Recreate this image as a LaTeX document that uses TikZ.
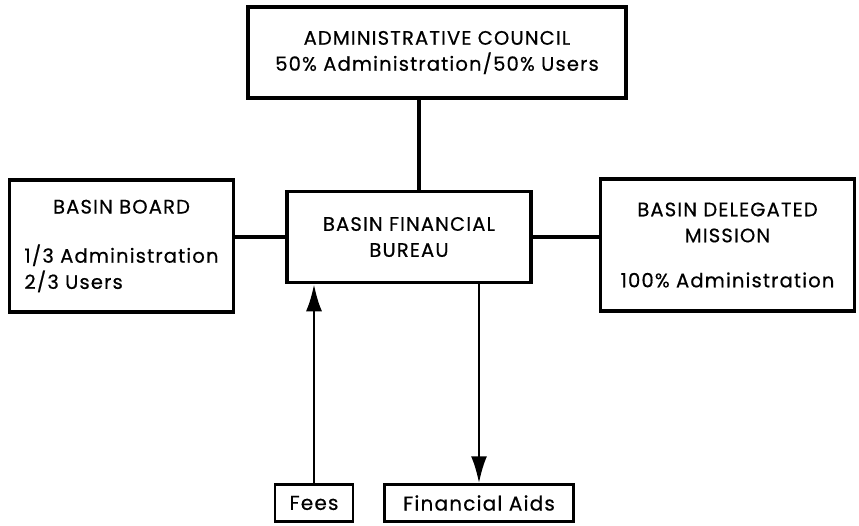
\documentclass[tikz,border=0pt]{standalone}
\usepackage{fontspec}
\setmainfont{Poppins}[LetterSpace=6, FakeBold=0.6]
\usetikzlibrary{arrows.meta, positioning}
\tikzset{
    unit/.style={
        rectangle, draw=black, line width=3.5pt,
        font=\fontsize{19.5}{26}\selectfont, align=center, inner sep=0pt
    },
    smallbox/.style={
        rectangle, draw=black, line width=2.5pt,
        minimum height=37pt, font=\fontsize{20}{22}\selectfont, inner sep=0pt
    },
    link/.style={line width=3.5pt, draw=black},
    arrow/.style={-{Latex[length=27pt,width=16pt]}, line width=2.5pt, draw=black}
}

\begin{document}
\begin{tikzpicture}[x=1pt, y=-1pt]
    \useasboundingbox (0,0) rectangle (859,525);

    \node[unit, minimum width=244pt, minimum height=91pt] (bureau) at (409,237) {BASIN FINANCIAL\\BUREAU};
    \node[unit, minimum width=224pt, minimum height=132pt, left=50pt of bureau, yshift=-9pt] (board)
        {\begin{tabular}{@{}l@{}}\multicolumn{1}{@{}c@{}}{BASIN BOARD}\\[23pt]1/3 Administration\\2/3 Users\end{tabular}};
    \node[unit, minimum width=254pt, minimum height=132pt, right=66pt of bureau, yshift=-8pt] (mission)
        {BASIN DELEGATED\\MISSION\\[19pt]100\% Administration};
    \node[unit, minimum width=378pt, minimum height=91pt, above=90pt of bureau, xshift=28pt] (council)
        {ADMINISTRATIVE COUNCIL\\50\% Administration/50\% Users};

    \node[smallbox, minimum width=78pt] (fees) at (314,503) {Fees};
    \node[smallbox, minimum width=189pt, right=29pt of fees] (aids) {Financial Aids};

    \draw[link] ([xshift=10pt]bureau.north) -- ([xshift=10pt]bureau.north |- council.south);
    \draw[link] (bureau.west) -- (bureau.west -| board.east);
    \draw[link] (bureau.east) -- (bureau.east -| mission.west);

    \draw[arrow] (fees.north) -- (fees.north |- bureau.south);
    \draw[arrow] (bureau.south -| aids.north) -- (aids.north);
\end{tikzpicture}
\end{document}
